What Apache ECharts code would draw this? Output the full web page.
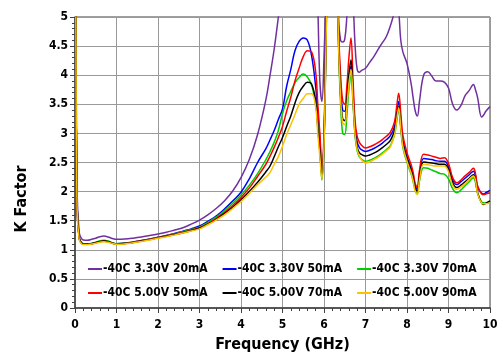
<!DOCTYPE html>
<html><head><meta charset="utf-8">
<script src="https://cdn.jsdelivr.net/npm/echarts@6/dist/echarts.min.js"></script>
<style>html,body{margin:0;padding:0;background:#fff}#c{width:503px;height:358px}</style>
</head><body><div id="c"></div>
<script>
const FONT = '"DejaVu Sans Condensed","Liberation Sans",sans-serif';
const freq = [0,0.02,0.05,0.1,0.15,0.2,0.3,0.4,0.5,0.6,0.7,0.8,0.9,1.0,1.2,1.4,1.6,1.8,2.0,2.2,2.4,2.6,2.8,3.0,3.2,3.4,3.6,3.8,4.0,4.2,4.4,4.6,4.7,4.8,4.9,5.0,5.1,5.2,5.3,5.4,5.5,5.6,5.7,5.8,5.85,5.9,5.95,6.0,6.05,6.1,6.2,6.3,6.35,6.4,6.45,6.5,6.55,6.6,6.65,6.7,6.75,6.8,6.85,6.9,7.0,7.1,7.2,7.3,7.4,7.5,7.6,7.7,7.75,7.8,7.85,7.9,8.0,8.1,8.15,8.2,8.25,8.3,8.4,8.5,8.6,8.7,8.8,8.9,9.0,9.1,9.2,9.3,9.4,9.5,9.6,9.65,9.7,9.8,9.85,9.9,10.0];
const names = ['-40C 3.30V 20mA','-40C 3.30V 50mA','-40C 3.30V 70mA','-40C 5.00V 50mA','-40C 5.00V 70mA','-40C 5.00V 90mA'];
const colors = ['#7030A0','#0000FF','#00CC00','#FF0000','#000000','#FFC000'];
const k_33_20 = [9,5.5,2.0,1.3,1.2,1.17,1.165,1.18,1.2,1.225,1.235,1.22,1.195,1.18,1.185,1.2,1.22,1.245,1.27,1.3,1.34,1.38,1.44,1.51,1.6,1.71,1.84,2.01,2.24,2.55,2.98,3.58,4.0,4.45,5.0,5.6,6.5,7,7.5,8,8,7.5,7,6.2,5.2,3.9,3.55,4.3,5.5,7,8,6.5,5.0,4.6,4.57,4.62,5.0,5.6,5.8,5.3,4.5,4.1,4.05,4.08,4.12,4.22,4.32,4.44,4.55,4.66,4.85,5.1,5.3,5.1,4.6,4.4,4.2,3.85,3.6,3.38,3.3,3.55,4.0,4.06,3.98,3.9,3.9,3.88,3.78,3.5,3.4,3.48,3.65,3.74,3.84,3.75,3.62,3.28,3.32,3.38,3.46];
const k_33_50 = [9,5.0,1.8,1.21,1.13,1.105,1.1,1.11,1.125,1.145,1.155,1.145,1.12,1.105,1.115,1.135,1.16,1.185,1.215,1.245,1.28,1.32,1.36,1.41,1.49,1.58,1.7,1.84,1.99,2.22,2.5,2.74,2.89,3.05,3.24,3.42,3.81,4.1,4.42,4.58,4.64,4.6,4.34,3.8,3.35,2.9,2.35,2.9,4.8,6.5,8,6.5,4.7,3.8,3.4,3.38,3.6,3.95,4.15,3.7,3.1,2.85,2.76,2.72,2.69,2.71,2.74,2.78,2.83,2.89,2.96,3.12,3.33,3.55,3.22,2.88,2.6,2.4,2.27,2.1,2.04,2.3,2.57,2.56,2.55,2.53,2.52,2.52,2.43,2.2,2.12,2.17,2.23,2.29,2.35,2.27,2.08,1.97,1.96,1.98,2.02];
const k_33_70 = [9,5.0,1.78,1.2,1.125,1.105,1.1,1.11,1.13,1.155,1.165,1.15,1.12,1.105,1.112,1.132,1.157,1.183,1.212,1.242,1.275,1.31,1.35,1.39,1.47,1.56,1.67,1.8,1.94,2.11,2.31,2.55,2.69,2.85,3.05,3.34,3.56,3.72,3.87,3.96,4.02,3.97,3.83,3.5,3.15,2.75,2.2,2.8,4.6,6.5,8,6.5,4.5,3.5,3.0,2.98,3.3,3.75,4.0,3.5,2.95,2.7,2.6,2.56,2.52,2.54,2.57,2.61,2.66,2.72,2.79,2.98,3.2,3.41,3.08,2.76,2.5,2.3,2.17,2.02,1.97,2.18,2.41,2.4,2.37,2.34,2.31,2.3,2.22,2.05,1.98,2.03,2.1,2.17,2.24,2.16,1.98,1.82,1.81,1.8,1.82];
const k_50_50 = [9,5.0,1.75,1.2,1.12,1.1,1.095,1.105,1.12,1.14,1.15,1.14,1.115,1.1,1.11,1.13,1.155,1.18,1.21,1.24,1.27,1.3,1.34,1.38,1.45,1.54,1.64,1.76,1.9,2.06,2.26,2.47,2.61,2.76,2.93,3.12,3.38,3.62,3.9,4.12,4.32,4.42,4.4,4.05,3.5,3.0,2.42,3.0,4.8,6.5,8,6.5,4.8,4.0,3.56,3.5,3.8,4.3,4.64,3.9,3.2,2.95,2.85,2.8,2.75,2.77,2.8,2.84,2.89,2.95,3.02,3.2,3.45,3.69,3.35,2.97,2.67,2.46,2.32,2.13,2.07,2.36,2.64,2.63,2.61,2.59,2.57,2.58,2.48,2.24,2.15,2.2,2.27,2.33,2.4,2.31,2.1,1.96,1.95,1.96,1.98];
const k_50_70 = [9,5.0,1.76,1.2,1.12,1.1,1.095,1.105,1.12,1.14,1.15,1.14,1.115,1.1,1.108,1.127,1.15,1.175,1.205,1.233,1.262,1.293,1.33,1.37,1.44,1.52,1.62,1.73,1.86,2.0,2.16,2.34,2.44,2.6,2.77,2.93,3.12,3.3,3.52,3.7,3.81,3.88,3.85,3.55,3.1,2.7,2.28,2.85,4.7,6.5,8,6.5,4.6,3.65,3.25,3.22,3.55,4.0,4.26,3.6,3.0,2.76,2.67,2.64,2.61,2.63,2.66,2.7,2.75,2.81,2.88,3.05,3.26,3.46,3.13,2.82,2.56,2.36,2.23,2.06,2.01,2.25,2.51,2.5,2.49,2.48,2.47,2.47,2.38,2.15,2.07,2.11,2.17,2.23,2.29,2.2,1.98,1.8,1.78,1.8,1.84];
const k_50_90 = [9,5.0,1.72,1.18,1.11,1.09,1.088,1.098,1.112,1.13,1.14,1.13,1.108,1.094,1.102,1.12,1.143,1.168,1.197,1.225,1.255,1.287,1.322,1.36,1.43,1.51,1.6,1.71,1.83,1.97,2.12,2.25,2.33,2.47,2.6,2.78,2.98,3.15,3.32,3.5,3.6,3.68,3.68,3.45,3.0,2.6,2.22,2.8,4.6,6.5,8,6.5,4.55,3.6,3.18,3.15,3.45,3.85,4.1,3.55,2.97,2.72,2.62,2.55,2.49,2.51,2.55,2.59,2.64,2.7,2.77,2.98,3.22,3.44,3.1,2.78,2.52,2.32,2.18,2.0,1.95,2.2,2.47,2.46,2.45,2.44,2.44,2.44,2.34,2.11,2.04,2.08,2.14,2.21,2.27,2.19,1.97,1.8,1.79,1.79,1.81];
const seriesVals = [k_33_20,k_33_50,k_33_70,k_50_50,k_50_70,k_50_90];

const chart = echarts.init(document.getElementById('c'), null, {renderer:'canvas'});
const lbl = {color:'#000', fontWeight:'bold', fontSize:12, fontFamily:FONT};
function legendRow(idx, top){
  return {
    data:idx.map(i=>({name:names[i],icon:'rect',itemStyle:{color:colors[i]}})),
    left:88, top:top, padding:0, itemWidth:14, itemHeight:2, itemGap:15,
    textStyle:{color:'#000',fontWeight:'bold',fontSize:12,fontFamily:FONT,padding:[0,0,0,-4]}
  };
}
chart.setOption({
  animation:false,
  backgroundColor:'#fff',
  grid:{left:75,right:13,top:17,bottom:49,show:true,borderColor:'#404040',borderWidth:1,backgroundColor:'transparent'},
  legend:[legendRow([0,1,2],263), legendRow([3,4,5],287)],
  xAxis:{type:'value',min:0,max:10,interval:1,
    name:'Frequency (GHz)',nameLocation:'middle',nameGap:29,
    nameTextStyle:{color:'#000',fontWeight:'bold',fontSize:16,fontFamily:FONT},
    axisLine:{onZero:false,lineStyle:{color:'#404040',width:1.5}},
    axisTick:{show:true,length:5,lineStyle:{color:'#404040'}},
    minorTick:{show:true,splitNumber:5,length:3,lineStyle:{color:'#404040'}},
    axisLabel:Object.assign({margin:11},lbl),
    splitLine:{show:true,lineStyle:{color:'#999999',width:1}}
  },
  yAxis:{type:'value',min:0,max:5,interval:0.5,
    axisLine:{show:true,lineStyle:{color:'#404040',width:1.5}},
    axisTick:{show:true,length:5,lineStyle:{color:'#404040'}},
    minorTick:{show:true,splitNumber:5,length:3,lineStyle:{color:'#404040'}},
    axisLabel:Object.assign({margin:7},lbl),
    splitLine:{show:true,lineStyle:{color:'#999999',width:1}}
  },
  graphic:[{type:'text',x:22,y:199,rotation:Math.PI/2,
    style:{text:'K Factor',fill:'#000',font:'bold 16px '+FONT,textAlign:'center',textVerticalAlign:'middle'}}],
  series:seriesVals.map((vals,i)=>({
    name:names[i],type:'line',showSymbol:false,symbol:'none',
    smooth:0.4,clip:true,
    lineStyle:{color:colors[i],width:1.5},itemStyle:{color:colors[i]},
    data:freq.map((f,j)=>[f,vals[j]])
  }))
});
</script></body></html>
